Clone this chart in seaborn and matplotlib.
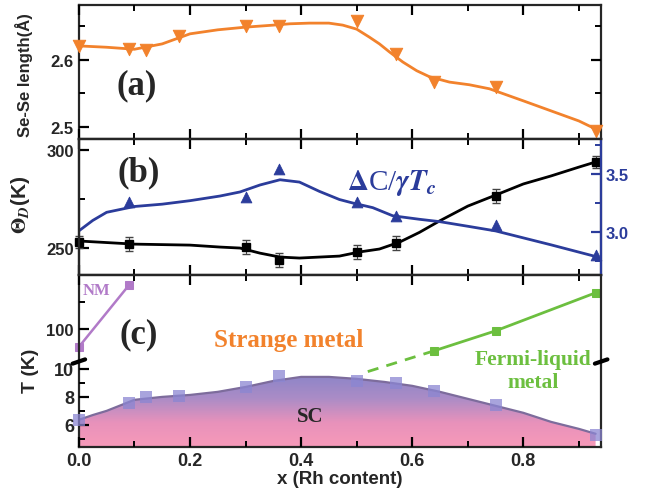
import numpy as np
import matplotlib
matplotlib.use('Agg')
import matplotlib.pyplot as plt
import seaborn as sns
from matplotlib.colors import LinearSegmentedColormap
from matplotlib.ticker import MultipleLocator, FixedLocator, FormatStrFormatter

# panel (a): Se-Se length
x_a = [0.0, 0.09, 0.12, 0.18, 0.30, 0.36, 0.50, 0.57, 0.64, 0.75, 0.93]
sese = [2.621, 2.616, 2.615, 2.636, 2.651, 2.651, 2.658, 2.609, 2.567, 2.560, 2.494]
fit_xa = [0.0, 0.05, 0.10, 0.15, 0.20, 0.25, 0.30, 0.35, 0.38, 0.415, 0.45, 0.475,
          0.50, 0.523, 0.541, 0.559, 0.583, 0.608, 0.631, 0.667, 0.703, 0.739,
          0.80, 0.85, 0.90, 0.93]
sese_fit = [2.621, 2.619, 2.616, 2.624, 2.639, 2.645, 2.649, 2.652, 2.654, 2.655,
            2.655, 2.652, 2.646, 2.634, 2.624, 2.612, 2.597, 2.584, 2.575, 2.567,
            2.563, 2.557, 2.539, 2.524, 2.509, 2.497]

# panel (b): Debye temperature and specific heat jump
x_b = [0.0, 0.09, 0.30, 0.36, 0.50, 0.57, 0.75, 0.93]
theta_d = [253.1, 252.0, 250.5, 244.0, 248.0, 252.5, 276.5, 293.9]
theta_err = [3.0, 3.5, 3.5, 3.5, 3.5, 3.5, 3.5, 3.0]
fit_xb = [0.0, 0.10, 0.20, 0.254, 0.29, 0.326, 0.362, 0.397, 0.433, 0.469, 0.505,
          0.541, 0.577, 0.613, 0.649, 0.70, 0.75, 0.80, 0.85, 0.90, 0.93]
theta_fit = [253.6, 252.0, 251.5, 250.5, 250.0, 247.4, 245.4, 244.9, 245.4, 245.9,
             248.0, 249.5, 253.0, 258.0, 263.8, 271.4, 277.0, 282.7, 286.8, 291.3, 293.9]
x_dc = [0.09, 0.30, 0.36, 0.50, 0.57, 0.75, 0.93]
dc = [3.26, 3.30, 3.54, 3.26, 3.14, 3.06, 2.80]
fit_xdc = [0.0, 0.025, 0.05, 0.10, 0.15, 0.20, 0.254, 0.29, 0.326, 0.362, 0.397,
           0.433, 0.469, 0.493, 0.529, 0.565, 0.613, 0.649, 0.70, 0.75, 0.80, 0.85, 0.93]
dc_fit = [3.01, 3.10, 3.17, 3.22, 3.24, 3.27, 3.31, 3.345, 3.405, 3.45, 3.43,
          3.35, 3.28, 3.25, 3.21, 3.14, 3.11, 3.09, 3.05, 3.01, 2.95, 2.89, 2.79]

# panel (c): phase diagram
x_nm = [0.0, 0.09]
t_nm = [66, 181]
x_fl = [0.64, 0.75, 0.93]
t_fl = [59, 96, 167]
x_fl_dash = [0.52, 0.64]
t_fl_dash = [20, 59]
x_sc = [0.0, 0.09, 0.12, 0.18, 0.30, 0.36, 0.50, 0.57, 0.64, 0.75, 0.93]
tc = [6.36, 7.57, 8.0, 8.07, 8.71, 9.5, 9.14, 9.0, 8.43, 7.43, 5.29]
fit_xc = [0.0, 0.025, 0.05, 0.10, 0.15, 0.20, 0.25, 0.30, 0.35, 0.40, 0.45, 0.50,
          0.55, 0.60, 0.65, 0.70, 0.75, 0.80, 0.85, 0.90, 0.93]
tc_fit = [6.36, 6.7, 7.0, 7.79, 8.0, 8.14, 8.36, 8.71, 9.14, 9.43, 9.43,
          9.29, 9.07, 8.79, 8.36, 7.86, 7.36, 6.86, 6.21, 5.71, 5.36]

orange = '#f2822c'
blue = '#2b3c9b'
purple = '#b17ac8'
green = '#6cbf3f'
serif = 'Liberation Serif'

sns.set_style('ticks')
plt.rcParams['font.family'] = ['Liberation Sans', 'DejaVu Sans']
plt.rcParams['font.weight'] = 'bold'
plt.rcParams['mathtext.fontset'] = 'stix'
plt.rcParams['axes.linewidth'] = 1.6
plt.rcParams['axes.axisbelow'] = False


def style_ticks(ax, **kw):
    ax.tick_params(which='major', direction='in', length=7, width=1.6,
                   color='black', **kw)
    ax.tick_params(which='minor', direction='in', length=4, width=1.4,
                   color='black')


fig = plt.figure(figsize=(6.57, 5.02), dpi=100)
L, W = 0.120, 0.795
ax_a = fig.add_axes([L, 0.721, W, 0.267])
ax_b = fig.add_axes([L, 0.450, W, 0.271], sharex=ax_a)
ax_cu = fig.add_axes([L, 0.277, W, 0.173], sharex=ax_a)
ax_cl = fig.add_axes([L, 0.108, W, 0.169], sharex=ax_a)

# ---- (a)
sns.lineplot(x=fit_xa, y=sese_fit, ax=ax_a, color=orange, lw=2)
sns.scatterplot(x=x_a, y=sese, ax=ax_a, color=orange, marker='v', s=80,
                edgecolor=orange, zorder=3, clip_on=False)
ax_a.set_ylim(2.482, 2.682)
ax_a.yaxis.set_major_locator(FixedLocator([2.5, 2.6]))
ax_a.yaxis.set_minor_locator(FixedLocator([2.55, 2.65]))
ax_a.set_xlabel('')
ax_a.set_ylabel('Se-Se length(Å)', fontsize=12, fontweight='bold')
ax_a.yaxis.set_label_coords(-0.088, 0.485)
ax_a.text(0.105, 2.563, '(a)', family=serif, fontsize=25, fontweight='bold',
          ha='center', va='center')
style_ticks(ax_a, top=True, right=True, bottom=True, left=True,
            labelbottom=False, labelsize=12)
ax_a.tick_params(which='minor', top=True, right=True)

# ---- (b)
sns.lineplot(x=fit_xb, y=theta_fit, ax=ax_b, color='black', lw=2)
ax_b.errorbar(x_b, theta_d, yerr=theta_err, fmt='s', color='black', ms=6,
              ecolor='#444444', elinewidth=0.8, capsize=3, zorder=3, clip_on=False)
ax_b.set_ylim(236.2, 305.6)
ax_b.yaxis.set_major_locator(FixedLocator([250, 300]))
ax_b.yaxis.set_minor_locator(FixedLocator([275]))
ax_b.set_ylabel(r'$\mathit{\Theta}_D$(K)', fontsize=15, fontweight='bold')
ax_b.yaxis.set_label_coords(-0.09, 0.52)
ax_b.text(0.108, 288.8, '(b)', family=serif, fontsize=25, fontweight='bold',
          ha='center', va='center')
style_ticks(ax_b, top=True, bottom=True, left=True, right=False,
            labelbottom=False, labelsize=12)
ax_b.tick_params(which='minor', top=True, right=False)

ax_b2 = ax_b.twinx()
sns.lineplot(x=fit_xdc, y=dc_fit, ax=ax_b2, color=blue, lw=2)
sns.scatterplot(x=x_dc, y=dc, ax=ax_b2, color=blue, marker='^', s=60,
                edgecolor=blue, zorder=3, clip_on=False)
ax_b2.set_ylim(2.63, 3.80)
ax_b2.yaxis.set_major_locator(FixedLocator([3.0, 3.5]))
ax_b2.yaxis.set_minor_locator(FixedLocator([2.75, 3.25, 3.75]))
ax_b2.tick_params(axis='y', which='major', direction='in', length=7, width=1.6,
                  colors=blue, labelsize=12)
ax_b2.tick_params(axis='y', which='minor', direction='in', length=4, width=1.4,
                  colors=blue)
ax_b2.spines['right'].set_color(blue)
ax_b2.set_ylabel('')
ax_b2.text(0.483, 3.43, r'$\Delta$C/$\gamma\boldsymbol{T}_{\boldsymbol{c}}$',
           family=serif, fontweight='normal', color=blue, fontsize=21,
           ha='left', va='center')

# ---- (c) upper part
sns.lineplot(x=x_nm, y=t_nm, ax=ax_cu, color=purple, lw=1.8, marker='s', ms=6,
             mec=purple, clip_on=False)
sns.lineplot(x=x_fl, y=t_fl, ax=ax_cu, color=green, lw=2, marker='s', ms=6,
             mec=green, clip_on=False)
ax_cu.plot(x_fl_dash, t_fl_dash, color=green, lw=2, ls=(0, (4, 3)), clip_on=False,
           zorder=5)
ax_cu.set_ylim(38, 200)
ax_cu.yaxis.set_major_locator(FixedLocator([100]))
ax_cu.yaxis.set_minor_locator(FixedLocator([150]))
ax_cu.spines['bottom'].set_visible(False)
style_ticks(ax_cu, top=True, bottom=False, left=True, right=False,
            labelbottom=False, labelsize=12)
ax_cu.tick_params(which='minor', top=True, bottom=False, right=False)
ax_cu.text(0.108, 91, '(c)', family=serif, fontsize=25, fontweight='bold',
           ha='center', va='center')
ax_cu.text(0.032, 172, 'NM', family=serif, fontsize=12, color=purple,
           fontweight='bold', ha='center', va='center')
ax_cu.text(0.378, 80, 'Strange metal', family=serif, fontsize=18, color=orange,
           fontweight='bold', ha='center', va='center')

# ---- (c) lower part
ylo, yhi = 4.43, 10.5
ax_cl.patch.set_visible(False)
area = ax_cl.fill_between(fit_xc, tc_fit, ylo, facecolor='none', edgecolor='none')
cmap = LinearSegmentedColormap.from_list('sc', ['#f79ab9', '#e892bb', '#ab8cc6', '#8c85c8'])
grad = np.linspace(0, 1, 256).reshape(-1, 1)
im = ax_cl.imshow(grad, cmap=cmap, origin='lower', aspect='auto',
                  extent=[0, 0.94, ylo, 9.6], zorder=1)
im.set_clip_path(area.get_paths()[0], transform=ax_cl.transData)
sns.lineplot(x=fit_xc, y=tc_fit, ax=ax_cl, color='#7d6c9c', lw=1.6, zorder=2)
sns.scatterplot(x=x_sc, y=tc, ax=ax_cl, color='#8b86d2', marker='s', s=75,
                alpha=0.75, edgecolor='none', zorder=3, clip_on=False)
ax_cl.set_ylim(ylo, yhi)
ax_cl.yaxis.set_major_locator(FixedLocator([6, 8, 10]))
ax_cl.yaxis.set_minor_locator(FixedLocator([5, 7, 9]))
ax_cl.spines['top'].set_visible(False)
ax_cl.text(0.416, 6.64, 'SC', family=serif, fontsize=15, fontweight='bold',
           ha='center', va='center')
ax_cl.text(0.817, 9.86, 'Fermi-liquid\nmetal', family=serif, fontsize=15.5,
           color=green, fontweight='bold', ha='center', va='center', linespacing=1.2)
ax_cl.set_xlim(0, 0.94)
ax_cl.xaxis.set_major_locator(MultipleLocator(0.2))
ax_cl.xaxis.set_minor_locator(MultipleLocator(0.1))
ax_cl.xaxis.set_major_formatter(FormatStrFormatter('%.1f'))
style_ticks(ax_cl, top=False, bottom=True, left=True, right=False, labelsize=13)
ax_cl.tick_params(which='minor', top=False, bottom=True, right=False)
ax_cl.set_xlabel('x (Rh content)', fontsize=13.5, fontweight='bold', labelpad=1)
ax_cl.set_ylabel('')
ax_cu.set_ylabel('')
fig.text(0.046, 0.261, 'T (K)', rotation=90, fontsize=14, fontweight='bold',
         ha='center', va='center')

# axis break marks
for xa in (0.0, 1.0):
    ax_cl.plot([xa - 0.012, xa + 0.012], [0.98, 1.03], transform=ax_cl.transAxes,
               color='black', lw=3, clip_on=False, zorder=6)

fig.savefig('out.png', dpi=100)
